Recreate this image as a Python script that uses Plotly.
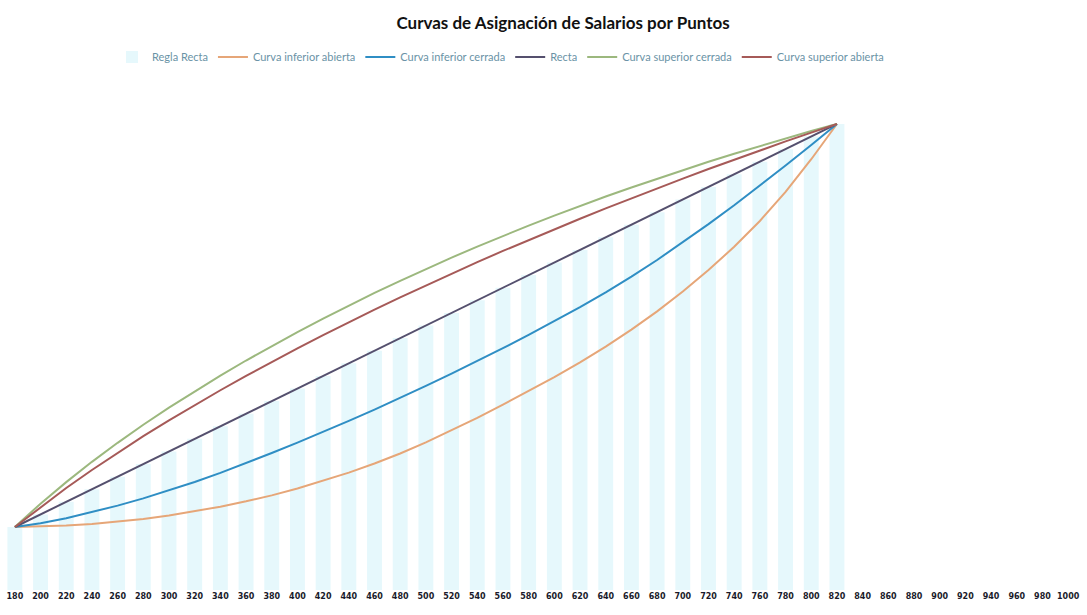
import plotly.graph_objects as go

categories = [str(v) for v in range(180, 1001, 20)]

regla_recta = [1000, 1200, 1400, 1600, 1800, 2000, 2200, 2400, 2600, 2800, 3000,
               3200, 3400, 3600, 3800, 4000, 4200, 4400, 4600, 4800, 5000, 5200,
               5400, 5600, 5800, 6000, 6200, 6400, 6600, 6800, 7000, 7200, 7400]
recta = [1000, 1200, 1400, 1600, 1800, 2000, 2200, 2400, 2600, 2800, 3000,
         3200, 3400, 3600, 3800, 4000, 4200, 4400, 4600, 4800, 5000, 5200,
         5400, 5600, 5800, 6000, 6200, 6400, 6600, 6800, 7000, 7200, 7400]
inferior_abierta = [1000, 1008, 1023, 1048, 1083, 1128, 1183, 1248, 1323, 1408, 1503,
                    1613, 1733, 1863, 2008, 2168, 2343, 2533, 2733, 2943, 3160, 3380,
                    3615, 3865, 4135, 4425, 4740, 5080, 5450, 5860, 6320, 6840, 7400]
inferior_cerrada = [1000, 1060, 1140, 1235, 1340, 1455, 1580, 1715, 1860, 2015, 2175,
                    2340, 2510, 2685, 2865, 3050, 3240, 3435, 3635, 3840, 4050, 4265,
                    4490, 4725, 4975, 5240, 5520, 5810, 6110, 6420, 6740, 7065, 7400]
superior_cerrada = [1000, 1371, 1713, 2035, 2337, 2624, 2896, 3156, 3405, 3644, 3874,
                    4096, 4310, 4517, 4717, 4910, 5097, 5278, 5453, 5622, 5786, 5945,
                    6099, 6248, 6392, 6532, 6668, 6800, 6928, 7052, 7172, 7288, 7400]
superior_abierta = [1000, 1317, 1619, 1906, 2180, 2442, 2694, 2937, 3172, 3400, 3622,
                    3838, 4048, 4253, 4453, 4648, 4838, 5024, 5206, 5384, 5558, 5728,
                    5895, 6059, 6220, 6378, 6533, 6685, 6834, 6980, 7123, 7263, 7400]


def pad(vals):
    return vals + [None] * (len(categories) - len(vals))


fig = go.Figure()
fig.add_trace(go.Bar(x=categories, y=pad(regla_recta), name="Regla Recta",
                     marker=dict(color="#e6f8fc", line=dict(width=0))))
line_series = [
    ("Curva inferior abierta", inferior_abierta, "#e6a678"),
    ("Curva inferior cerrada", inferior_cerrada, "#2f8ec4"),
    ("Recta", recta, "#55506e"),
    ("Curva superior cerrada", superior_cerrada, "#9cb87e"),
    ("Curva superior abierta", superior_abierta, "#a65a58"),
]
for name, vals, col in line_series:
    fig.add_trace(go.Scatter(x=categories, y=pad(vals), name=name, mode="lines",
                             line=dict(color=col, width=2), connectgaps=False))

fig.update_layout(
    width=1087, height=615,
    margin=dict(l=2, r=6, t=95, b=25),
    paper_bgcolor="white", plot_bgcolor="white",
    bargap=0.42,
    title=dict(text="<b>Curvas de Asignación de Salarios por Puntos</b>",
               x=0.518, xanchor="center", y=0.962, yref="container", yanchor="middle",
               font=dict(family="Lato", size=17, color="#111111")),
    legend=dict(orientation="h", x=0.462, xanchor="center", y=1.077, yanchor="middle",
                font=dict(family="Lato", size=11, color="#6a93a6"),
                itemwidth=30, bgcolor="rgba(0,0,0,0)"),
    showlegend=True,
)
fig.update_xaxes(type="category", tickmode="linear", dtick=1, tickangle=0,
                 tickfont=dict(family="DejaVu Sans", size=8, color="#1a1a2a", weight="bold"),
                 showgrid=False, showline=False, zeroline=False, ticks="",
                 range=[-0.5, len(categories) - 0.5])
fig.update_yaxes(range=[0, 7860], showticklabels=False, showgrid=False,
                 zeroline=False, showline=False)

fig.write_html("out.html")
